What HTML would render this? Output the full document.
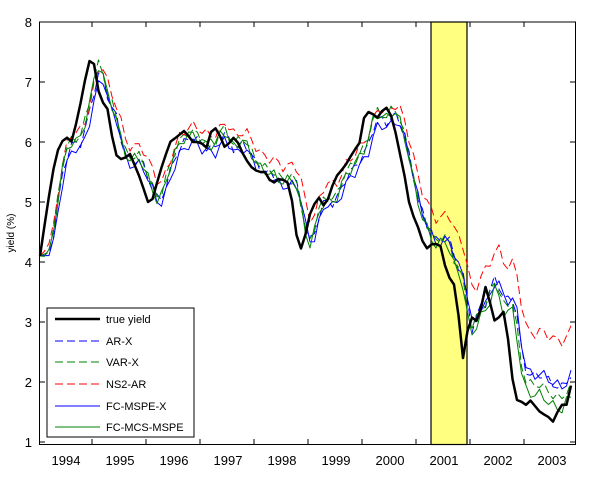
<!DOCTYPE html>
<html><head><meta charset="utf-8"><style>
html,body{margin:0;padding:0;background:#fff;}
svg{display:block;font-family:"Liberation Sans",Arial,sans-serif;}
</style></head><body>
<svg id="s" width="600" height="478" viewBox="0 0 600 478">
<rect x="39.5" y="22" width="536" height="422.5" fill="#fff" stroke="none"/>
<rect x="431" y="22" width="36" height="422.5" fill="#ffff80" stroke="#000" stroke-width="1.2"/>
<g id="series" fill="none" stroke-linejoin="round"></g>
<rect x="39.5" y="22" width="536" height="422.5" fill="none" stroke="#000" stroke-width="1"/>
<g id="ticks" stroke="#000" stroke-width="1"></g>
<g font-size="13" text-anchor="end">
<text x="32" y="27">8</text><text x="32" y="87">7</text><text x="32" y="147">6</text><text x="32" y="207">5</text><text x="32" y="267">4</text><text x="32" y="327">3</text><text x="32" y="387">2</text><text x="32" y="447">1</text>
</g>
<g font-size="13" text-anchor="middle">
<text x="66" y="465">1994</text><text x="120" y="465">1995</text><text x="174" y="465">1996</text><text x="228" y="465">1997</text><text x="282" y="465">1998</text><text x="336" y="465">1999</text><text x="390" y="465">2000</text><text x="444" y="465">2001</text><text x="498" y="465">2002</text><text x="552" y="465">2003</text>
</g>
<text transform="translate(14,233) rotate(-90)" font-size="10" text-anchor="middle">yield (%)</text>
<rect x="47" y="308" width="147" height="129" fill="#fff" stroke="#000" stroke-width="1"/>
<g font-size="11">
<line x1="55" y1="319" x2="100" y2="319" stroke="#000" stroke-width="2.5"/><text x="106" y="323">true yield</text>
<line x1="55" y1="341" x2="100" y2="341" stroke="#0000ff" stroke-width="1" stroke-dasharray="8,4"/><text x="106" y="345">AR-X</text>
<line x1="55" y1="362" x2="100" y2="362" stroke="#008000" stroke-width="1" stroke-dasharray="8,4"/><text x="106" y="366">VAR-X</text>
<line x1="55" y1="384" x2="100" y2="384" stroke="#ff0000" stroke-width="1" stroke-dasharray="8,4"/><text x="106" y="388">NS2-AR</text>
<line x1="55" y1="406" x2="100" y2="406" stroke="#0000ff" stroke-width="1"/><text x="106" y="410">FC-MSPE-X</text>
<line x1="55" y1="427" x2="100" y2="427" stroke="#008000" stroke-width="1"/><text x="106" y="431">FC-MCS-MSPE</text>
</g>
</svg>
<script>
var T=[[40,4.1],[48,5.0],[56,5.8],[65,6.1],[72,6.0],[80,6.6],[87,7.2],[92,7.5],[97,7.0],[100,6.7],[107,6.6],[115,5.8],[122,5.7],[130,5.8],[140,5.4],[150,4.9],[160,5.5],[170,6.0],[178,6.1],[185,6.2],[192,6.0],[200,6.0],[207,5.9],[213,6.3],[220,6.1],[225,5.9],[235,6.1],[243,5.8],[250,5.6],[258,5.5],[265,5.5],[272,5.3],[280,5.4],[290,5.3],[295,4.6],[298,4.3],[302,4.2],[310,4.8],[318,5.1],[325,4.9],[335,5.4],[345,5.6],[352,5.8],[360,6.0],[365,6.5],[370,6.5],[378,6.4],[385,6.6],[390,6.5],[395,6.2],[400,5.8],[405,5.4],[410,4.9],[415,4.7],[420,4.5],[425,4.2],[432,4.3],[440,4.3],[447,3.8],[455,3.6],[460,2.9],[463,2.4],[467,2.8],[470,3.1],[478,3.0],[487,3.7],[491,3.2],[495,3.0],[500,3.1],[505,3.2],[510,2.4],[515,1.7],[520,1.7],[525,1.6],[530,1.7],[540,1.5],[550,1.4],[555,1.3],[560,1.7],[565,1.5],[570,1.9],[575,2.1]];
function val(x){if(x<=T[0][0])return T[0][1];for(var i=1;i<T.length;i++){if(x<=T[i][0]){var a=T[i-1],b=T[i];return a[1]+(b[1]-a[1])*(x-a[0])/(b[0]-a[0]);}}return T[T.length-1][1];}
function Y(v){return 442-60*(v-1);}
function path(fn){var d="";for(var x=40;x<=575;x+=4.5){d+=(d?"L":"M")+x.toFixed(1)+","+Y(fn(x)).toFixed(1);}return d;}
function fc(lag,amp,off,ph,late){return function(x){var v=(val(x-lag)*0.6+val(x-lag-4)*0.25+val(x-lag+4)*0.15)*amp+(1-amp)*5.3;v+=off+0.08*Math.sin(x*0.45+ph);if(x>420)v+=late*(x-420)/155;if(x<60)v=4.1+(v-4.1)*((x-40)/20);return v;};}
var S=[
 ["#0000ff",1,"8,4",fc(9,0.93,-0.02,0,0.3)],
 ["#008000",1,"8,4",fc(8,0.96,0.05,1.5,0.15)],
 ["#ff0000",1,"8,4",fc(10,0.85,0.25,3,0.5)],
 ["#0000ff",1,"",fc(10,0.9,-0.08,2,0.25)],
 ["#008000",1,"",fc(8,0.97,0.0,4,0.05)],
 ["#000",2.5,"",val]
];
var g=document.getElementById("series"),h="";
S.forEach(function(s){h+='<path d="'+path(s[3])+'" stroke="'+s[0]+'" stroke-width="'+s[1]+'"'+(s[2]?' stroke-dasharray="'+s[2]+'"':'')+'/>';});
g.innerHTML=h;
var t="";for(var k=0;k<9;k++){var x=92+54*k;t+='<line x1="'+x+'" y1="444.5" x2="'+x+'" y2="439"/><line x1="'+x+'" y1="22" x2="'+x+'" y2="27"/>';}
for(var v=1;v<=8;v++){var y=Y(v);t+='<line x1="39.5" y1="'+y+'" x2="45" y2="'+y+'"/><line x1="575.5" y1="'+y+'" x2="570" y2="'+y+'"/>';}
document.getElementById("ticks").innerHTML=t;
</script>
</body></html>
